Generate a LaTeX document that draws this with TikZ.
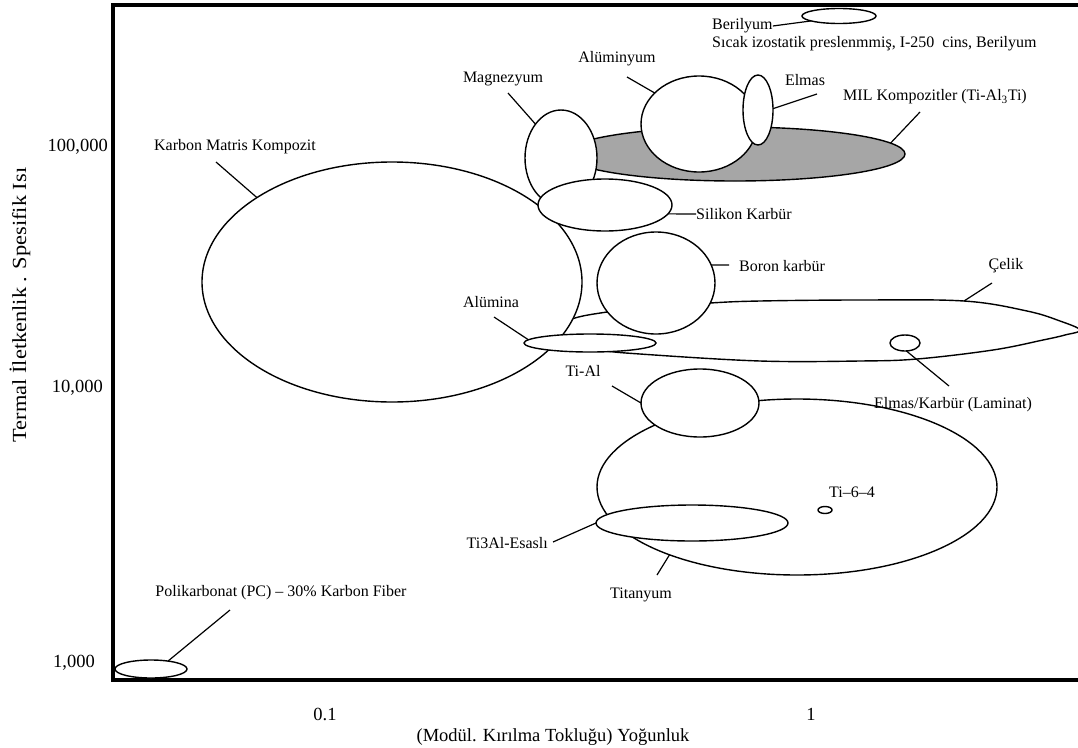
\documentclass[tikz,border=0pt]{standalone}
\usepackage{fontspec}
\setmainfont{Liberation Serif}
\usetikzlibrary{shapes.geometric}
\begin{document}
\begin{tikzpicture}[x=1pt,y=-1pt,
  ell/.style={ellipse, draw, line width=1.4pt, fill=white, inner sep=0pt, outer sep=0pt},
  lbl/.style={inner sep=0pt, font=\fontsize{16}{17}\selectfont},
  axl/.style={inner sep=0pt, font=\fontsize{18.5}{20}\selectfont},
  con/.style={line width=1.2pt},
  frame/.style={line width=4pt, line join=miter}]
\useasboundingbox (0,0) rectangle (1078,747);

% frame
\draw[frame] (1082,5) -- (113,5) -- (113,680) -- (1082,680);

% regions (drawing order gives the overlaps)
\node[ell, fill=gray!70, minimum width=340pt, minimum height=54pt] (mil) at (735,154) {};
\node[ell, minimum width=116pt, minimum height=96pt] (alu) at (699,124) {};
\node[ell, minimum width=30pt, minimum height=70pt] (elm) at (758,110) {};
\node[ell, minimum width=72pt, minimum height=96pt] (mag) at (561,158) {};
\draw[line width=1.4pt, fill=white] plot[smooth cycle, tension=0.6] coordinates {
  (1080,330) (1060,321) (1027,311) (964,301) (860,300) (760,301) (710,303)
  (640,308) (607,312) (575,318) (556,328) (560,342) (600,350) (640,354)
  (760,361) (860,361) (917,359) (993,350) (1043,340) (1065,335)};
\coordinate (celiktop) at (964,301);
\node[ell, minimum width=380pt, minimum height=240pt] (karbon) at (392,282) {};
\node[ell, minimum width=134pt, minimum height=52pt] (sic) at (605,205) {};
\node[ell, minimum width=118pt, minimum height=102pt] (boron) at (656,283) {};
\node[ell, minimum width=132pt, minimum height=18pt] (alumina) at (590,343) {};
\node[ell, minimum width=30pt, minimum height=16pt] (ek) at (905,343) {};
\node[ell, minimum width=400pt, minimum height=176pt] (titan) at (797,487) {};
\node[ell, minimum width=118pt, minimum height=68pt] (tial) at (700,403) {};
\node[ell, minimum width=192pt, minimum height=36pt] (ti3al) at (692,523) {};
\node[ell, minimum width=14pt, minimum height=7pt] (ti64) at (825,510) {};
\node[ell, minimum width=74pt, minimum height=15pt] (ber) at (839,16) {};
\node[ell, minimum width=72pt, minimum height=18pt] (pc) at (151,669) {};

% labels
\node[lbl, anchor=west] (berlab) at (712,26) {Berilyum};
\node[lbl, anchor=west] (berlab2) at (712,44) {Sıcak izostatik preslenmmiş, I-250\ \ cins, Berilyum};
\node[lbl] (alulab) at (617,59) {Alüminyum};
\node[lbl] (maglab) at (503,79) {Magnezyum};
\node[lbl] (elmlab) at (805,80) {Elmas};
\node[lbl, anchor=west] (millab) at (843,97) {MIL Kompozitler (Ti-Al\textsubscript{3}Ti)};
\node[lbl] (karlab) at (235,147) {Karbon Matris Kompozit};
\node[lbl, anchor=west] (siclab) at (696,214) {Silikon Karbür};
\node[lbl, anchor=west] (borlab) at (739,266) {Boron karbür};
\node[lbl] (cellab) at (1006,266) {Çelik};
\node[lbl] (alulab2) at (491,302) {Alümina};
\node[lbl] (tiallab) at (583,371) {Ti-Al};
\node[lbl] (eklab) at (953,405) {Elmas/Karbür (Laminat)};
\node[lbl] (ti64lab) at (852,492) {Ti–6–4};
\node[lbl, anchor=east] (ti3lab) at (548,543) {Ti3Al-Esaslı};
\node[lbl] (titlab) at (641,595) {Titanyum};
\node[lbl] (pclab) at (281,593) {Polikarbonat (PC) – 30\% Karbon Fiber};

% connector free ends
\coordinate (cAlu) at (627,77);
\coordinate (cMag) at (508,93);
\coordinate (cElm) at (817,94);
\coordinate (cMil) at (920,112);
\coordinate (cKar) at (216,162);
\coordinate (cBor) at (729,265);
\coordinate (cCel) at (992,283);
\coordinate (cAlm) at (494,317);
\coordinate (cEk) at (949,386);
\coordinate (cTial) at (612,386);
\coordinate (cTit) at (657,575);
\coordinate (cTi3) at (553,542);
\coordinate (cPc) at (230,610);

% connectors
\draw[con] (berlab.east) -- (ber.-170);
\draw[con] (cAlu) -- (alu.145);
\draw[con] (cMag) -- (mag.127);
\draw[con] (cElm) -- (elm.5);
\draw[con] (cMil) -- (mil.4);
\draw[con] (cKar) -- (karbon.148);
\draw[con] (sic.-8) -- (siclab.west);
\draw[con] (boron.18) -- (cBor);
\draw[con] (cCel) -- (celiktop);
\draw[con] (cAlm) -- (alumina.177);
\draw[con] (ek.-80) -- (cEk);
\draw[con] (cTial) -- (tial.west);
\draw[con] (cTit) -- (titan.-152);
\draw[con] (cTi3) -- (ti3al.west);
\draw[con] (cPc) -- (pc.25);

% axes labels
\node[axl, anchor=east] (y5) at (108,147) {100,000};
\node[axl, anchor=east] (y4) at (103,388) {10,000};
\node[axl, anchor=east] (y3) at (95,663) {1,000};
\node[axl] (x1) at (325,714) {0.1};
\node[axl] (x2) at (811,714) {1};
\node[axl] (xt) at (553,737) {(Modül. Kırılma Tokluğu) Yoğunluk};
\node[inner sep=0pt, rotate=90, font=\fontsize{20}{21}\selectfont] (yt) at (20,305) {\scalebox{1.12}[1]{Termal İletkenlik . Spesifik Isı}};
\end{tikzpicture}
\end{document}
